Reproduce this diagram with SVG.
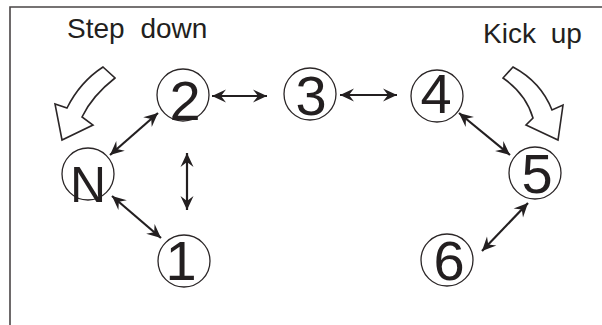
<svg xmlns="http://www.w3.org/2000/svg" width="602" height="325" viewBox="0 0 602 325">
  <defs>
    <style>
      .frame { fill: none; stroke: #4a4546; stroke-width: 1.6; }
      .ring { fill: none; stroke: #2b2627; stroke-width: 1.3; }
      .digit { font-family: "Liberation Sans", Arial, sans-serif; font-size: 56px; fill: #231f20; text-anchor: middle; }
      .label { font-family: "Liberation Sans", Arial, sans-serif; font-size: 28px; fill: #231f20; word-spacing: 7px; }
      .conn { fill: none; stroke: #231f20; stroke-width: 2.2; marker-start: url(#head); marker-end: url(#head); }
      .hollow { fill: #ffffff; stroke: #2b2627; stroke-width: 1.6; stroke-linejoin: miter; }
    </style>
    <marker id="head" markerUnits="userSpaceOnUse" viewBox="-15 -7 16 14" refX="0" refY="0" markerWidth="16" markerHeight="14" orient="auto-start-reverse">
      <path d="M0,0 L-14,-6.5 L-9,0 L-14,6.5 Z" fill="#231f20"/>
    </marker>
  </defs>

  <rect width="602" height="325" fill="#ffffff"/>
  <path class="frame" d="M10,325 L10,7 L602,7"/>

  <g id="label-step-down">
    <text class="label" x="67" y="38" style="word-spacing:8px">Step down</text>
    <path class="hollow" d="M103,67 L115,78 Q92,96 82,117 L93,125 L62,140 L55,104 L67,108 Q80,82 103,67 Z"/>
  </g>
  <g id="label-kick-up">
    <text class="label" x="483" y="43">Kick up</text>
    <path class="hollow" d="M513,67 L503,78 Q526,94 533,118 L526,125 L558,140 L563,105 L552,110 Q541,82 513,67 Z"/>
  </g>

  <g id="node-2"><circle class="ring" cx="183" cy="95" r="26"/><text class="digit" x="185" y="120">2</text></g>
  <g id="node-3"><circle class="ring" cx="310" cy="94" r="26"/><text class="digit" x="311" y="115">3</text></g>
  <g id="node-4"><circle class="ring" cx="437" cy="96" r="26"/><text class="digit" x="436" y="113">4</text></g>
  <g id="node-N"><circle class="ring" cx="88" cy="174" r="26"/><text class="digit" x="88" y="202" style="font-size:50px">N</text></g>
  <g id="node-1"><circle class="ring" cx="184" cy="261" r="26"/><text class="digit" x="181" y="280">1</text></g>
  <g id="node-5"><circle class="ring" cx="535" cy="173" r="26"/><text class="digit" x="537" y="193">5</text></g>
  <g id="node-6"><circle class="ring" cx="447" cy="260" r="26"/><text class="digit" x="449" y="280">6</text></g>

  <g id="connectors">
    <line class="conn" x1="212" y1="96" x2="267" y2="96"/>
    <line class="conn" x1="340" y1="95" x2="397" y2="95"/>
    <line class="conn" x1="158" y1="113" x2="110" y2="155"/>
    <line class="conn" x1="187" y1="153" x2="187" y2="210"/>
    <line class="conn" x1="112" y1="196" x2="161" y2="238"/>
    <line class="conn" x1="459" y1="113" x2="510" y2="155"/>
    <line class="conn" x1="528" y1="203" x2="482" y2="251"/>
  </g>
</svg>
